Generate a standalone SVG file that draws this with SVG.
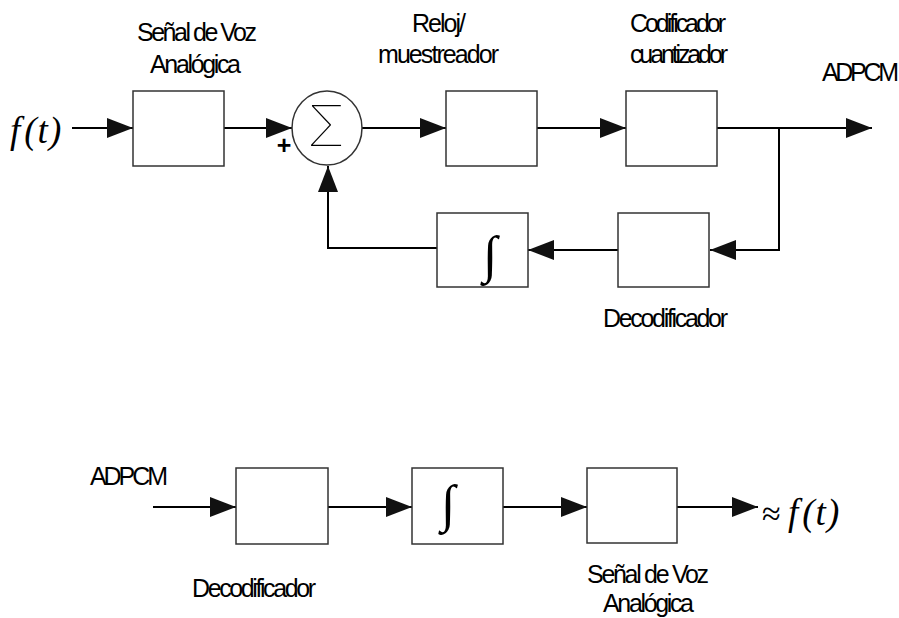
<svg xmlns="http://www.w3.org/2000/svg" width="899" height="618" viewBox="0 0 899 618">
<style>
.box{fill:#fff;stroke:#333;stroke-width:1.5}
.wire{fill:none;stroke:#000;stroke-width:2}
.lbl{font-family:"Liberation Sans",Arial,sans-serif;font-size:25px;fill:#000}
.math{font-family:"Liberation Serif","Times New Roman",serif;font-style:italic;font-size:37px;fill:#000}
.sym{font-family:"Liberation Serif","DejaVu Serif",serif;fill:#000}
</style>
<defs>
<marker id="ah" markerUnits="userSpaceOnUse" markerWidth="26" markerHeight="20" refX="26" refY="10" orient="auto" viewBox="0 0 26 20">
<path d="M0,0 L26,10 L0,20 z" fill="#111"/>
</marker>
</defs>
<rect width="899" height="618" fill="#fff"/>
<g id="connectors">
<path class="wire" d="M72,128 H133" marker-end="url(#ah)"/>
<path class="wire" d="M224,128 H292" marker-end="url(#ah)"/>
<path class="wire" d="M362,128 H446" marker-end="url(#ah)"/>
<path class="wire" d="M537,128 H626" marker-end="url(#ah)"/>
<path class="wire" d="M717,128 H872" marker-end="url(#ah)"/>
<path class="wire" d="M779,128 V250 H710" marker-end="url(#ah)"/>
<path class="wire" d="M618,250 H528" marker-end="url(#ah)"/>
<path class="wire" d="M437,248 H328 V166" marker-end="url(#ah)"/>
<path class="wire" d="M153,507 H236" marker-end="url(#ah)"/>
<path class="wire" d="M328,507 H412" marker-end="url(#ah)"/>
<path class="wire" d="M503,507 H587" marker-end="url(#ah)"/>
<path class="wire" d="M677,507 H758" marker-end="url(#ah)"/>
</g>
<g id="input">
<text class="math" x="10" y="143">f<tspan dx="4">(</tspan><tspan dx="1">t</tspan><tspan dx="1">)</tspan></text>
</g>
<g id="senal1">
<rect class="box" x="133" y="91" width="91" height="75"/>
<text class="lbl" x="137" y="41" textLength="120">Señal de Voz</text>
<text class="lbl" x="150" y="73" textLength="91">Analógica</text>
</g>
<g id="suma">
<ellipse cx="327" cy="128" rx="35" ry="37" fill="#fff" stroke="#333" stroke-width="1.5"/>
<text x="326" y="146" text-anchor="middle" font-family="Inter,'DejaVu Sans',sans-serif" font-weight="100" font-size="56" fill="#000">Σ</text>
<text class="lbl" x="284" y="154" text-anchor="middle" font-weight="bold" font-size="22">+</text>
</g>
<g id="reloj">
<rect class="box" x="446" y="91" width="91" height="75"/>
<text class="lbl" x="412" y="32" textLength="54">Reloj/</text>
<text class="lbl" x="378" y="63" textLength="121">muestreador</text>
</g>
<g id="codificador">
<rect class="box" x="626" y="91" width="91" height="75"/>
<text class="lbl" x="630" y="32" textLength="96">Codificador</text>
<text class="lbl" x="630" y="63" textLength="98">cuantizador</text>
</g>
<g id="salida">
<text class="lbl" x="822" y="81" textLength="77">ADPCM</text>
</g>
<g id="decodificador1">
<rect class="box" x="618" y="213" width="91" height="74"/>
<text class="lbl" x="603" y="327" textLength="125">Decodificador</text>
</g>
<g id="integrador1">
<rect class="box" x="437" y="213" width="91" height="74"/>
<text class="sym" x="490" y="272" text-anchor="middle" font-size="52">∫</text>
</g>
<g id="entrada2">
<text class="lbl" x="90" y="485" textLength="78">ADPCM</text>
</g>
<g id="decodificador2">
<rect class="box" x="236" y="468" width="92" height="76"/>
<text class="lbl" x="192" y="597" textLength="124">Decodificador</text>
</g>
<g id="integrador2">
<rect class="box" x="412" y="468" width="91" height="76"/>
<text class="sym" x="448" y="521" text-anchor="middle" font-size="52">∫</text>
</g>
<g id="senal2">
<rect class="box" x="587" y="468" width="90" height="75"/>
<text class="lbl" x="587" y="583" textLength="122">Señal de Voz</text>
<text class="lbl" x="603" y="612" textLength="91">Analógica</text>
</g>
<g id="salida2">
<text class="sym" x="762" y="525" font-size="34">≈</text>
<text class="math" x="788" y="525">f<tspan dx="4">(</tspan><tspan dx="1">t</tspan><tspan dx="1">)</tspan></text>
</g>
</svg>
